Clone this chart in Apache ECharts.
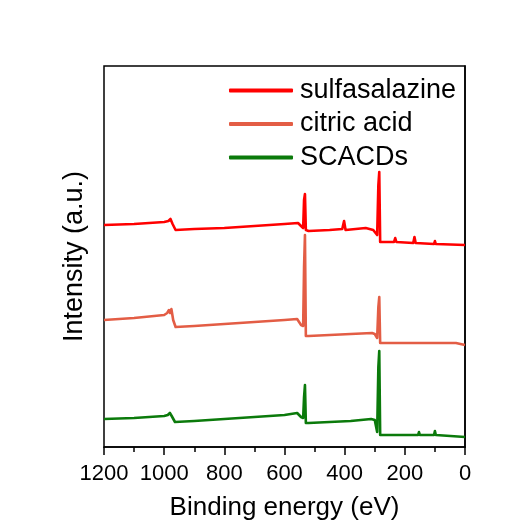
<!DOCTYPE html>
<html>
<head>
<meta charset="utf-8">
<script src="https://cdn.jsdelivr.net/npm/echarts@6/dist/echarts.min.js"></script>
<style>
  html, body { margin: 0; padding: 0; background: #ffffff; }
  #chart { width: 528px; height: 526px; }
</style>
</head>
<body>
<div id="chart"></div>
<script>
// XPS survey spectra, binding energy (eV) vs. offset intensity (a.u.)
const xTicks = [1200, 1000, 800, 600, 400, 200, 0];
const seriesNames = ['sulfasalazine', 'citric acid', 'SCACDs'];
const seriesColors = ['#ff0000', '#e35d45', '#0b7a0b'];

const sulfaEnergy = [1200, 1100, 1000, 986, 979, 972, 962, 900, 800, 700, 600, 555, 545, 538, 535, 532, 529, 520, 450, 408, 402, 397, 330, 305, 292, 288, 285, 282, 270, 236, 232, 228, 172, 168, 164, 103, 100, 97, 0];
const sulfaIntensity = [222, 223, 225, 226, 228, 223, 217, 218, 219, 221, 223, 224, 221, 219, 247, 253, 217, 216, 217, 218, 226, 217, 219, 217, 212, 262, 275, 205, 205, 205, 209, 205, 204, 210, 204, 203, 206, 203, 202];

const citricEnergy = [1200, 1100, 1000, 990, 984, 980, 976, 970, 962, 900, 800, 700, 600, 558, 545, 538, 535, 532, 529, 520, 450, 380, 309, 300, 292, 288, 285, 282, 270, 156, 153, 150, 103, 100, 97, 30, 27, 24, 0];
const citricIntensity = [127, 129, 132, 134, 137, 134, 138, 127, 120, 121, 123, 125, 127, 128, 122, 121, 180, 212, 111, 111, 112, 113, 114, 113, 109, 140, 150, 104, 104, 104, 106, 104, 104, 105, 104, 104, 106, 103, 102];

const scaEnergy = [1200, 1100, 1000, 988, 981, 975, 964, 900, 800, 700, 600, 558, 545, 538, 535, 532, 529, 520, 450, 380, 312, 306, 300, 292, 288, 285, 282, 270, 156, 153, 150, 103, 100, 97, 0];
const scaIntensity = [28, 29, 31, 32, 34, 31, 25, 26, 28, 30, 32, 34, 30, 29, 50, 62, 24, 24, 25, 26, 28, 30, 27, 15, 80, 96, 12, 12, 12, 15, 12, 12, 16, 12, 10];

function pairs(xs, ys) {
  return xs.map((x, i) => [x, ys[i]]);
}

const spectra = [
  pairs(sulfaEnergy, sulfaIntensity),
  pairs(citricEnergy, citricIntensity),
  pairs(scaEnergy, scaIntensity)
];

const FONT = '"Liberation Sans", Arial, sans-serif';

const chart = echarts.init(document.getElementById('chart'), null, { renderer: 'canvas' });

chart.setOption({
  backgroundColor: '#ffffff',
  animation: false,
  grid: {
    left: 104, right: 63, top: 66, bottom: 79,
    show: true, borderColor: '#000000', borderWidth: 1.5,
    backgroundColor: 'transparent'
  },
  legend: {
    orient: 'vertical',
    left: 229,
    top: 77,
    padding: 0,
    itemWidth: 64,
    itemHeight: 4,
    itemGap: 6.5,
    icon: 'roundRect',
    textStyle: { fontFamily: FONT, fontSize: 27, color: '#000000', lineHeight: 27, padding: [0, 0, 0, 2] },
    data: seriesNames
  },
  xAxis: {
    type: 'value',
    inverse: true,
    min: 0,
    max: 1200,
    interval: 200,
    name: 'Binding energy (eV)',
    nameLocation: 'middle',
    nameGap: 48,
    nameTextStyle: { fontFamily: FONT, fontSize: 26, color: '#000000' },
    axisLine: { show: true, onZero: false, lineStyle: { color: '#000000', width: 1.5 } },
    axisTick: { show: true, inside: false, length: 8, lineStyle: { color: '#000000', width: 1.5 } },
    minorTick: { show: true, splitNumber: 2, length: 5, lineStyle: { color: '#000000', width: 1.5 } },
    axisLabel: {
      fontFamily: FONT, fontSize: 22, color: '#000000', margin: 16,
      formatter: v => (xTicks.indexOf(v) >= 0 ? String(v) : '')
    },
    splitLine: { show: false }
  },
  yAxis: {
    type: 'value',
    min: 0,
    max: 381,
    name: 'Intensity (a.u.)',
    nameLocation: 'middle',
    nameGap: 16,
    nameTextStyle: { fontFamily: FONT, fontSize: 27, color: '#000000' },
    axisLine: { show: true, lineStyle: { color: '#000000', width: 1.5 } },
    axisTick: { show: false },
    axisLabel: { show: false },
    splitLine: { show: false }
  },
  series: seriesNames.map((name, i) => ({
    name: name,
    type: 'line',
    data: spectra[i],
    showSymbol: false,
    symbol: 'none',
    z: 3 - i,
    lineStyle: { color: seriesColors[i], width: 2.6, join: 'round' },
    itemStyle: { color: seriesColors[i] }
  }))
});
</script>
</body>
</html>
